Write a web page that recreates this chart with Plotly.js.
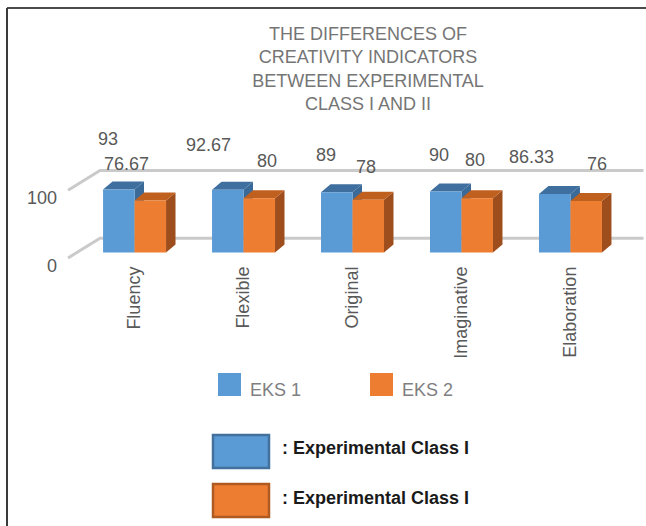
<!DOCTYPE html>
<html>
<head>
<meta charset="utf-8">
<script src="https://cdn.plot.ly/plotly-3.0.1.min.js"></script>
<style>
  html, body { margin: 0; padding: 0; background: #ffffff; }
  #chart { width: 646px; height: 526px; }
</style>
</head>
<body>
<div id="chart"></div>
<script>
// ---- data ----
const categories = ['Fluency', 'Flexible', 'Original', 'Imaginative', 'Elaboration'];
const eks1 = [93, 92.67, 89, 90, 86.33];
const eks2 = [76.67, 80, 78, 80, 76];
const yTickValues = [0, 100];
const seriesNames = ['EKS 1', 'EKS 2'];
const keyLabels = [': Experimental Class I', ': Experimental Class I'];
const titleText = 'THE DIFFERENCES OF<br>CREATIVITY INDICATORS<br>BETWEEN EXPERIMENTAL<br>CLASS I AND II';

// ---- layout / style config ----
const W = 646, H = 526;
const M = { l: 60, r: 0, t: 117, b: 264 };
const xRange = [-0.684, 4.693];
const yRange = [-14, 200];
const bargap = 0.422;
const colors = {
  blue: '#5B9BD5', blueTop: '#3F6F9E', blueSide: '#3A6A98', blueEdge: '#41719C',
  orange: '#ED7D31', orangeTop: '#C0601F', orangeSide: '#9E4E1D', orangeEdge: '#AE5A21',
  text: '#595959', grid: '#CACACA'
};
// 3D depth offsets (x in category units, y in value units)
const depthDx = 0.087, depthDy = 11.8;
const wall = { xFront: -0.61, xBack: -0.317, xEnd: 4.67, frontDy: -8, backDy: 21 };
// data-label positions: [x offset from category, y in value units]
const labelPos1 = [[-0.243, 168.2], [-0.317, 159.4], [-0.243, 143.5], [-0.206, 143.5], [-0.362, 141.7]];
const labelPos2 = [[-0.078, 131.3], [0.216, 135.0], [0.124, 126.9], [0.124, 136.9], [0.243, 130.6]];

const plotW = W - M.l - M.r, plotH = H - M.t - M.b;
function px(x, y) { return { x: (x - M.l) / plotW, y: (H - M.b - y) / plotH }; }

const xIdx = categories.map((c, i) => i);
const barW = (1 - bargap) / 2;

const traces = [
  { type: 'bar', x: xIdx, y: eks1, name: seriesNames[0], marker: { color: colors.blue }, showlegend: false, hoverinfo: 'skip' },
  { type: 'bar', x: xIdx, y: eks2, name: seriesNames[1], marker: { color: colors.orange }, showlegend: false, hoverinfo: 'skip' }
];

const shapes = [];
// back wall gridlines
yTickValues.forEach(v => {
  shapes.push({
    type: 'path', xref: 'x', yref: 'y', layer: 'below',
    path: `M ${wall.xFront},${v + wall.frontDy} L ${wall.xBack},${v + wall.backDy} L ${wall.xEnd},${v + wall.backDy}`,
    line: { color: colors.grid, width: 3 }
  });
});
// 3D faces for each bar
function faces(i, v, x0, top, side) {
  const x1 = x0 + barW;
  shapes.push({
    type: 'path', xref: 'x', yref: 'y', layer: 'below',
    path: `M ${x1},0 L ${x1 + depthDx},${depthDy} L ${x1 + depthDx},${v + depthDy} L ${x1},${v} Z`,
    fillcolor: side, line: { width: 0 }
  });
  shapes.push({
    type: 'path', xref: 'x', yref: 'y', layer: 'below',
    path: `M ${x0},${v} L ${x1},${v} L ${x1 + depthDx},${v + depthDy} L ${x0 + depthDx},${v + depthDy} Z`,
    fillcolor: top, line: { width: 0 }
  });
}
xIdx.forEach(i => {
  faces(i, eks1[i], i - barW, colors.blueTop, colors.blueSide);
  faces(i, eks2[i], i, colors.orangeTop, colors.orangeSide);
});

// border lines of the chart frame
const b1 = px(7, 8), b2 = px(W, 8), b3 = px(7, H);
shapes.push({ type: 'line', xref: 'paper', yref: 'paper', x0: b1.x, y0: b1.y, x1: b2.x, y1: b2.y, line: { color: '#4a4a4a', width: 2 } });
shapes.push({ type: 'line', xref: 'paper', yref: 'paper', x0: b1.x, y0: b1.y, x1: b3.x, y1: b3.y, line: { color: '#3a3a3a', width: 2 } });

// legend squares
function rect(x0, y0, x1, y1, fill, edge, w) {
  const a = px(x0, y0), b = px(x1, y1);
  shapes.push({ type: 'rect', xref: 'paper', yref: 'paper', x0: a.x, y0: a.y, x1: b.x, y1: b.y,
    fillcolor: fill, line: { color: edge, width: w } });
}
rect(218, 373, 241, 396, colors.blue, colors.blue, 0);
rect(370, 373, 393, 396, colors.orange, colors.orange, 0);
rect(213, 435, 269, 468, colors.blue, colors.blueEdge, 2.5);
rect(213, 484, 269, 517, colors.orange, colors.orangeEdge, 2.5);

const annotations = [];
xIdx.forEach(i => {
  annotations.push({ xref: 'x', yref: 'y', x: i + labelPos1[i][0], y: labelPos1[i][1], text: String(eks1[i]),
    showarrow: false, font: { size: 18, color: colors.text } });
  annotations.push({ xref: 'x', yref: 'y', x: i + labelPos2[i][0], y: labelPos2[i][1], text: String(eks2[i]),
    showarrow: false, font: { size: 18, color: colors.text } });
});
function label(x, y, text, font) {
  const p = px(x, y);
  annotations.push({ xref: 'paper', yref: 'paper', x: p.x, y: p.y, xanchor: 'left', yanchor: 'middle',
    text: text, showarrow: false, font: font });
}
label(248, 390, seriesNames[0], { size: 18, color: '#7F7F7F' });
label(400, 390, seriesNames[1], { size: 18, color: '#7F7F7F' });
label(280, 448, '<b>' + keyLabels[0] + '</b>', { size: 18, color: '#1a1a1a' });
label(280, 498, '<b>' + keyLabels[1] + '</b>', { size: 18, color: '#1a1a1a' });

const layout = {
  width: W, height: H,
  margin: M,
  paper_bgcolor: '#ffffff', plot_bgcolor: 'rgba(0,0,0,0)',
  font: { family: 'Liberation Sans, Arial, sans-serif', size: 18, color: colors.text },
  title: {
    text: titleText, xref: 'container', yref: 'container',
    x: 368 / W, xanchor: 'center', y: 1 - 40 / H, yanchor: 'top',
    font: { family: 'Liberation Sans, Arial, sans-serif', size: 18, color: '#757575' }
  },
  barmode: 'group', bargap: bargap, bargroupgap: 0,
  xaxis: {
    type: 'linear', range: xRange, tickvals: xIdx, ticktext: categories, tickangle: -90,
    showgrid: false, zeroline: false, showline: false, ticks: '',
    tickfont: { size: 18, color: colors.text }, fixedrange: true
  },
  yaxis: {
    range: yRange, tickvals: yTickValues, showgrid: false, zeroline: false, showline: false,
    ticks: '', ticklabelshift: 13, ticklabelstandoff: 2,
    tickfont: { size: 18, color: colors.text }, fixedrange: true
  },
  shapes: shapes,
  annotations: annotations,
  showlegend: false
};

Plotly.newPlot('chart', traces, layout, { staticPlot: true, displayModeBar: false });
</script>
</body>
</html>
